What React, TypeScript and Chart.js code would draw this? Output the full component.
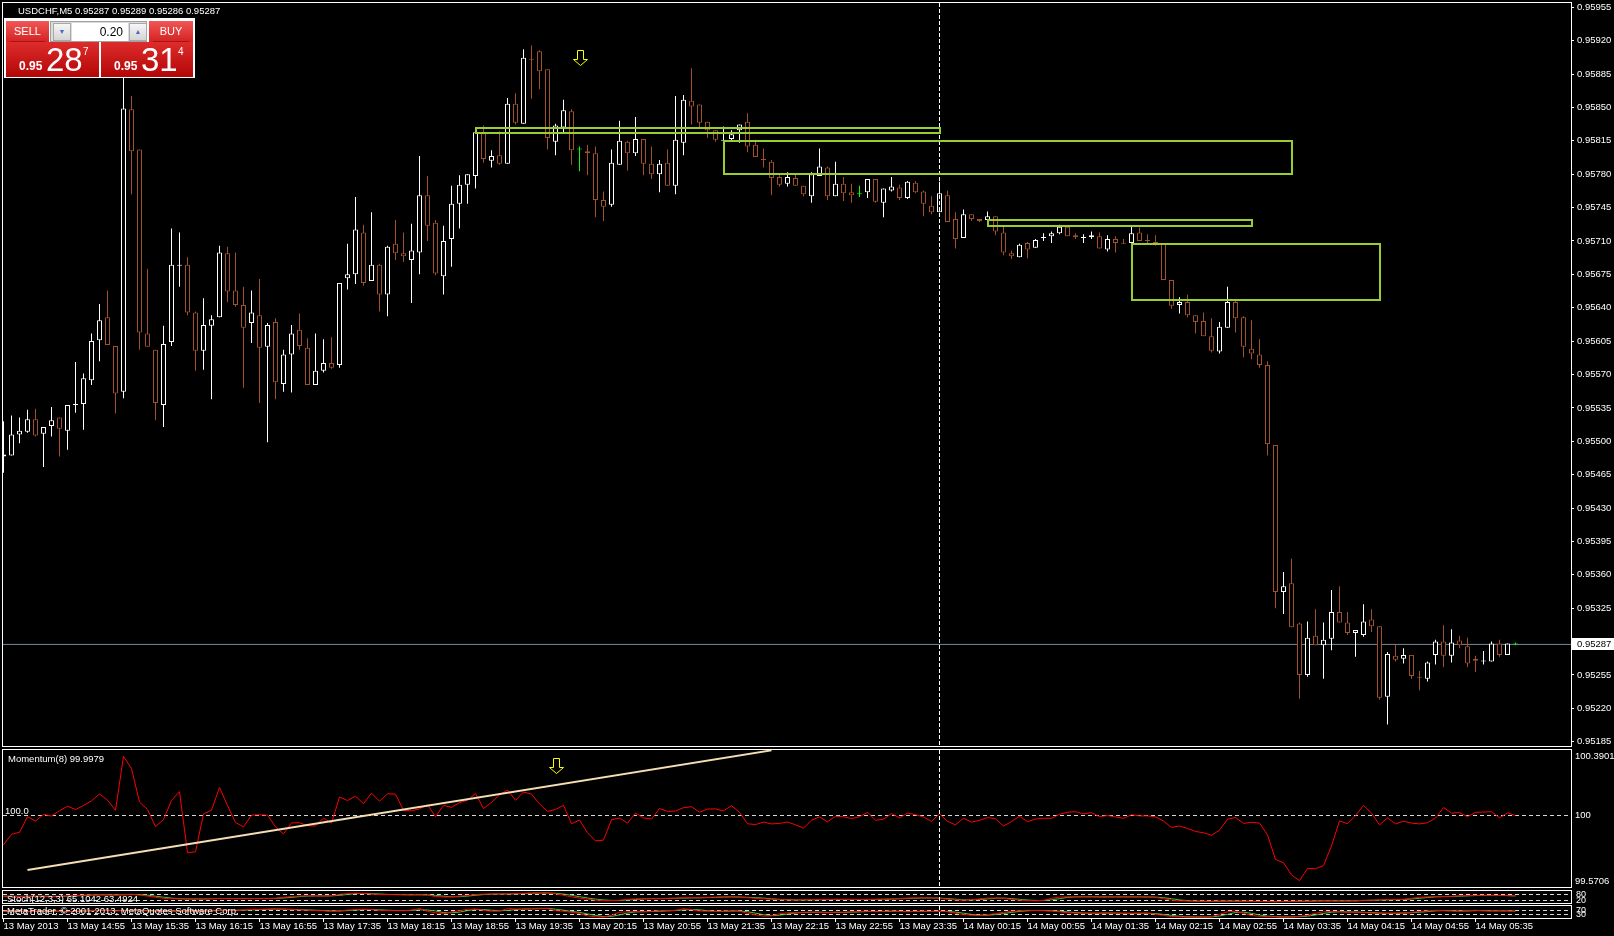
import React, { useEffect, useRef } from "react";
import { Chart, registerables } from "chart.js";
Chart.register(...registerables);

// ================= DATA =================
const SYMBOL_TITLE = "USDCHF,M5  0.95287 0.95289 0.95286 0.95287";
const MOMENTUM_TITLE = "Momentum(8) 99.9979";
const STOCH_TITLE = "Stoch(12,3,3) 65.1042 63.4924";
const COPYRIGHT = "MetaTrader, \u00a9 2001-2013, MetaQuotes Software Corp.";

const TIME_LABELS = [
  "13 May 2013", "13 May 14:55", "13 May 15:35", "13 May 16:15", "13 May 16:55", "13 May 17:35",
  "13 May 18:15", "13 May 18:55", "13 May 19:35", "13 May 20:15", "13 May 20:55", "13 May 21:35",
  "13 May 22:15", "13 May 22:55", "13 May 23:35", "14 May 00:15", "14 May 00:55", "14 May 01:35",
  "14 May 02:15", "14 May 02:55", "14 May 03:35", "14 May 04:15", "14 May 04:55", "14 May 05:35",
];
const BARS_PER_LABEL = 8;

const OPEN = [
  0.95484,0.95485,0.95507,0.95510,0.95523,0.95508,0.95516,0.95525,0.95511,0.95538,
  0.95539,0.95564,0.95606,0.95630,0.95600,0.95552,0.95848,0.95806,0.95613,0.95596,
  0.95538,0.95604,0.95684,0.95685,0.95635,0.95595,0.95621,0.95630,0.95697,0.95658,
  0.95643,0.95624,0.95632,0.95599,0.95625,0.95560,0.95591,0.95617,0.95598,0.95559,
  0.95574,0.95582,0.95580,0.95671,0.95675,0.95719,0.95668,0.95685,0.95654,0.95707,
  0.95697,0.95690,0.95698,0.95758,0.95729,0.95673,0.95712,0.95749,0.95769,0.95778,
  0.95823,0.95794,0.95800,0.95791,0.95854,0.95833,0.95901,0.95909,0.95890,0.95814,
  0.95829,0.95846,0.95806,0.95804,0.95802,0.95753,0.95748,0.95790,0.95814,0.95802,
  0.95817,0.95791,0.95780,0.95792,0.95768,0.95813,0.95857,0.95853,0.95835,0.95826,
  0.95815,0.95817,0.95826,0.95835,0.95811,0.95796,0.95793,0.95777,0.95770,0.95776,
  0.95768,0.95757,0.95778,0.95787,0.95757,0.95770,0.95761,0.95759,0.95761,0.95775,
  0.95750,0.95763,0.95766,0.95755,0.95771,0.95762,0.95747,0.95740,0.95758,0.95733,
  0.95713,0.95738,0.95733,0.95732,0.95736,0.95719,0.95697,0.95693,0.95708,0.95703,
  0.95713,0.95715,0.95718,0.95725,0.95716,0.95713,0.95714,0.95715,0.95701,0.95712,
  0.95708,0.95708,0.95719,0.95711,0.95709,0.95707,0.95669,0.95643,0.95646,0.95632,
  0.95626,0.95610,0.95594,0.95619,0.95646,0.95630,0.95597,0.95591,0.95580,0.95496,
  0.95342,0.95351,0.95309,0.95255,0.95296,0.95286,0.95293,0.95321,0.95310,0.95299,
  0.95297,0.95313,0.95306,0.95232,0.95275,0.95272,0.95276,0.95253,0.95251,0.95276,
  0.95290,0.95275,0.95291,0.95285,0.95272,0.95269,0.95269,0.95288,0.95276,0.95287,
];
const HIGH = [
  0.95521,0.95527,0.95525,0.95533,0.95534,0.95515,0.95536,0.95525,0.95538,0.95583,
  0.95571,0.95613,0.95644,0.95658,0.95600,0.95884,0.95862,0.95806,0.95681,0.95596,
  0.95621,0.95723,0.95719,0.95693,0.95636,0.95650,0.95632,0.95705,0.95704,0.95698,
  0.95662,0.95658,0.95670,0.95624,0.95629,0.95596,0.95622,0.95634,0.95608,0.95613,
  0.95607,0.95609,0.95666,0.95707,0.95756,0.95727,0.95740,0.95686,0.95705,0.95732,
  0.95719,0.95728,0.95799,0.95778,0.95732,0.95726,0.95768,0.95779,0.95780,0.95827,
  0.95831,0.95805,0.95825,0.95860,0.95865,0.95911,0.95915,0.95910,0.95890,0.95833,
  0.95858,0.95848,0.95809,0.95811,0.95809,0.95762,0.95806,0.95836,0.95815,0.95840,
  0.95817,0.95809,0.95795,0.95806,0.95862,0.95863,0.95891,0.95853,0.95835,0.95826,
  0.95830,0.95826,0.95832,0.95844,0.95816,0.95807,0.95795,0.95779,0.95782,0.95781,
  0.95768,0.95782,0.95807,0.95788,0.95793,0.95777,0.95770,0.95768,0.95775,0.95775,
  0.95765,0.95777,0.95769,0.95773,0.95773,0.95763,0.95757,0.95772,0.95763,0.95740,
  0.95743,0.95738,0.95733,0.95741,0.95736,0.95726,0.95700,0.95707,0.95709,0.95712,
  0.95718,0.95720,0.95727,0.95726,0.95718,0.95717,0.95720,0.95719,0.95716,0.95715,
  0.95712,0.95725,0.95724,0.95717,0.95716,0.95708,0.95669,0.95651,0.95654,0.95632,
  0.95635,0.95629,0.95625,0.95662,0.95649,0.95631,0.95627,0.95607,0.95584,0.95496,
  0.95363,0.95377,0.95310,0.95311,0.95324,0.95310,0.95344,0.95348,0.95321,0.95302,
  0.95329,0.95324,0.95306,0.95279,0.95287,0.95283,0.95276,0.95259,0.95269,0.95292,
  0.95307,0.95303,0.95296,0.95294,0.95275,0.95280,0.95290,0.95292,0.95288,0.95289,
];
const LOW = [
  0.95467,0.95485,0.95498,0.95509,0.95505,0.95473,0.95505,0.95484,0.95491,0.95530,
  0.95512,0.95559,0.95584,0.95601,0.95529,0.95545,0.95759,0.95596,0.95599,0.95522,
  0.95515,0.95600,0.95662,0.95632,0.95574,0.95575,0.95544,0.95630,0.95646,0.95641,
  0.95556,0.95603,0.95540,0.95499,0.95544,0.95552,0.95551,0.95596,0.95559,0.95559,
  0.95572,0.95576,0.95577,0.95659,0.95665,0.95663,0.95668,0.95636,0.95631,0.95690,
  0.95688,0.95645,0.95675,0.95710,0.95674,0.95654,0.95683,0.95723,0.95749,0.95765,
  0.95792,0.95787,0.95790,0.95791,0.95832,0.95833,0.95859,0.95869,0.95806,0.95800,
  0.95823,0.95790,0.95783,0.95779,0.95735,0.95731,0.95746,0.95790,0.95784,0.95799,
  0.95779,0.95775,0.95761,0.95768,0.95759,0.95800,0.95832,0.95828,0.95818,0.95814,
  0.95813,0.95814,0.95813,0.95803,0.95798,0.95787,0.95758,0.95767,0.95767,0.95768,
  0.95757,0.95750,0.95778,0.95753,0.95757,0.95752,0.95750,0.95756,0.95755,0.95750,
  0.95735,0.95762,0.95753,0.95754,0.95760,0.95736,0.95738,0.95740,0.95730,0.95702,
  0.95713,0.95731,0.95730,0.95732,0.95716,0.95695,0.95691,0.95693,0.95692,0.95703,
  0.95710,0.95708,0.95717,0.95715,0.95712,0.95708,0.95712,0.95702,0.95699,0.95698,
  0.95707,0.95708,0.95710,0.95707,0.95705,0.95669,0.95639,0.95634,0.95630,0.95613,
  0.95610,0.95593,0.95592,0.95619,0.95614,0.95588,0.95586,0.95577,0.95485,0.95325,
  0.95319,0.95305,0.95230,0.95253,0.95286,0.95251,0.95281,0.95310,0.95297,0.95274,
  0.95295,0.95300,0.95229,0.95203,0.95269,0.95267,0.95251,0.95239,0.95248,0.95266,
  0.95263,0.95268,0.95283,0.95263,0.95258,0.95266,0.95269,0.95274,0.95276,0.95286,
];
const CLOSE = [
  0.95486,0.95507,0.95511,0.95523,0.95506,0.95515,0.95522,0.95513,0.95538,0.95539,
  0.95566,0.95605,0.95627,0.95601,0.95550,0.95849,0.95804,0.95614,0.95599,0.95540,
  0.95602,0.95685,0.95685,0.95635,0.95595,0.95622,0.95628,0.95698,0.95657,0.95643,
  0.95619,0.95635,0.95598,0.95622,0.95562,0.95591,0.95613,0.95600,0.95559,0.95574,
  0.95582,0.95577,0.95666,0.95675,0.95722,0.95666,0.95685,0.95654,0.95704,0.95697,
  0.95694,0.95700,0.95758,0.95726,0.95676,0.95710,0.95749,0.95769,0.95780,0.95824,
  0.95796,0.95799,0.95791,0.95854,0.95834,0.95902,0.95900,0.95888,0.95818,0.95831,
  0.95847,0.95805,0.95806,0.95802,0.95753,0.95746,0.95792,0.95815,0.95802,0.95817,
  0.95791,0.95780,0.95791,0.95768,0.95816,0.95858,0.95851,0.95834,0.95826,0.95816,
  0.95816,0.95822,0.95832,0.95809,0.95798,0.95795,0.95776,0.95769,0.95777,0.95768,
  0.95759,0.95780,0.95788,0.95757,0.95770,0.95760,0.95758,0.95759,0.95775,0.95751,
  0.95765,0.95767,0.95755,0.95772,0.95761,0.95749,0.95740,0.95760,0.95730,0.95712,
  0.95738,0.95733,0.95731,0.95736,0.95720,0.95698,0.95694,0.95706,0.95701,0.95711,
  0.95714,0.95718,0.95725,0.95715,0.95714,0.95714,0.95716,0.95702,0.95712,0.95708,
  0.95707,0.95718,0.95710,0.95710,0.95706,0.95669,0.95642,0.95646,0.95632,0.95625,
  0.95610,0.95595,0.95620,0.95646,0.95629,0.95599,0.95592,0.95580,0.95497,0.95342,
  0.95348,0.95305,0.95255,0.95294,0.95286,0.95292,0.95321,0.95310,0.95299,0.95302,
  0.95311,0.95306,0.95231,0.95277,0.95271,0.95276,0.95254,0.95252,0.95268,0.95290,
  0.95275,0.95289,0.95286,0.95267,0.95270,0.95270,0.95288,0.95276,0.95288,0.95287,
];

const MOMENTUM = [
  99.822,99.886,99.898,99.991,99.965,100.005,99.995,100.027,
  100.054,100.034,100.058,100.086,100.127,100.090,100.029,100.352,
  100.279,100.079,100.035,99.932,99.974,100.088,100.141,99.776,
  99.781,100.008,100.030,100.166,100.058,99.956,99.931,100.000,
  100.003,100.000,99.931,99.888,99.954,99.955,99.937,99.936,
  99.983,99.953,100.109,100.088,100.114,100.069,100.132,100.084,
  100.128,100.126,100.029,100.026,100.038,100.063,99.991,100.059,
  100.047,100.075,100.090,100.130,100.040,100.077,100.121,100.151,
  100.089,100.139,100.126,100.067,100.023,100.034,100.059,99.949,
  99.971,99.895,99.846,99.851,99.973,99.983,99.953,100.013,
  99.984,99.977,100.040,100.023,100.025,100.045,100.051,100.018,
  100.037,100.038,100.026,100.057,100.017,99.949,99.944,99.959,
  99.948,99.951,99.959,99.943,99.923,99.970,99.990,99.960,
  99.994,99.991,99.980,99.991,100.017,99.970,99.976,100.010,
  99.984,100.013,100.003,99.990,99.963,100.009,99.963,99.942,
  99.982,99.959,99.969,99.986,99.979,99.935,99.962,99.994,
  99.961,99.977,99.982,99.981,100.005,100.018,100.021,100.008,
  100.016,99.991,99.998,99.990,99.981,100.003,99.996,99.996,
  99.990,99.965,99.927,99.935,99.921,99.903,99.895,99.880,
  99.910,99.976,99.986,99.951,99.958,99.953,99.882,99.735,
  99.716,99.643,99.609,99.681,99.680,99.699,99.816,99.966,
  99.949,99.997,100.059,100.013,99.942,99.984,99.948,99.964,
  99.953,99.948,99.955,99.983,100.046,100.013,100.016,99.991,
  100.017,100.019,100.021,99.985,100.014,99.998,
];

const STOCH_MAIN = [
  62,60,58,60,62,60,58, 60,64,68,72,75,76, 74,72,78,80, 72,62,50,40, 35,34,32,33,35,
  38,38,37,37,36,37,38,38,40, 50,58,63,65,64,63,65, 80,88,92,88, 82,78,76,76,75,74,76,
  72,58,52,55,62,70, 78,82,84,82,84,86,90, 93,94,92,85, 70,55,42,32, 22,17,18,20,
  30,35,36,36,37, 40,42,45,46,45, 50,52,55,54,50,46, 40,35,30,26,24,22,
  24,26,28,28,30,29,28,28,29,30,32,35, 38,42,44,44,42,40, 30,24,22,25, 35,42,43,40,
  28,22,18,16,20, 40,52, 56,55,55,54,53,54,55,54,53,54,53,50, 35,22,14,
  12,11,10,10,12,14,12,10,9,8,7,6,8,10,12,12,14,15,14,13,14,16,
  20,22,24,26,28,30, 40,50,55,57,58,60, 65,68,70,70,69,68,66,65.1,
];
const STOCH_SIGNAL = [
  60,61,60,59,60,61,60, 59,61,64,68,72,74, 75,74,75,77, 77,71,61,51, 42,36,34,33,33,
  35,37,38,37,37,37,37,38,39, 43,49,57,62,64,64,64, 69,78,87,89, 86,83,79,77,76,75,75,
  74,69,61,55,56,62, 70,77,81,83,83,84,87, 90,92,93,90, 82,70,56,43, 32,24,19,18,
  23,28,34,36,36, 38,40,42,44,45, 47,49,52,54,53,50, 47,42,35,30,27,24,
  23,24,26,27,29,29,29,28,28,29,30,32, 35,38,41,43,43,42, 37,31,25,24, 27,34,40,42,
  37,30,23,19,18, 25,36, 49,54,55,55,54,54,54,54,54,54,53,52, 46,36,24,
  16,12,11,10,11,12,12,12,10,9,8,7,7,8,10,11,13,14,14,14,14,14,
  17,20,22,24,26,28, 33,40,48,54,57,58, 61,64,68,69,70,69,68,63.49,
];
const STOCH2_MAIN = [
  60,62,58,55,60,64,62,58,55, 60,66,70,72,68,62,70,74, 70,62,58,60,64,66,62,60,
  64,70,72,68,70,74,78,80,82, 84,80,76,74,72,68,64,60, 66,72,78,80,76,70,68,66,
  66,72,88, 60,45,35, 55,66,80,84,70, 60,62,86,84,80, 88,90,88, 66,60,50,38,
  15,5,2,20, 50,55,58,55,60,66, 66,70,86,76, 62,60,58,62,66, 62,40,25,12,15,
  35,45,48,50, 52,50,45,52,50,55, 58,62,55,60,64,58,55,60,62,58,60,56,
  40,28,20,18,25,38, 50,60,66,70,68,65,62,55, 45,42,40,40,42,44,40,38,40,42,40,30,
  18,8,4,2,2,4,6, 30,55,60, 40,18,10,6,4,2,5,10,20,40, 55,58,55,50,52,48,
  42,38,40,42,45,50, 58,64,70,66,62,60,68,70,64,62,66,64,60,
];
const STOCH2_SIGNAL = [
  58,60,60,58,58,60,62,61,58, 58,61,65,69,70,67,67,69, 71,68,63,60,61,63,64,62,
  62,65,68,70,70,71,74,77,80, 82,82,80,77,74,71,68,64, 63,67,72,77,78,75,71,68,
  67,68,75, 73,64,47, 45,52,67,77,78, 71,65,69,77,83, 84,86,89, 81,71,59,49,
  34,19,7,9, 24,42,54,56,58,60, 64,67,74,77, 75,66,60,60,62, 63,56,42,26,17,
  21,32,43,48, 50,51,49,49,49,52, 54,58,58,59,60,61,59,58,59,60,60,59,
  52,41,29,22,21,27, 38,49,59,65,68,68,65,61, 54,47,42,41,41,42,42,41,39,40,41,37,
  29,19,10,5,3,3,4, 13,30,48, 52,39,23,11,7,4,4,6,12,23, 38,51,56,54,52,50,
  47,43,40,40,42,46, 51,57,64,67,66,63,63,66,67,65,64,64,63,
];

const PRICE_TICKS = [
  0.95185, 0.95220, 0.95255, 0.95290, 0.95325, 0.95360, 0.95395, 0.95430, 0.95465, 0.95500,
  0.95535, 0.95570, 0.95605, 0.95640, 0.95675, 0.95710, 0.95745, 0.95780, 0.95815, 0.95850,
  0.95885, 0.95920, 0.95955,
];
const PRICE_MIN = 0.9518049;
const PRICE_MAX = 0.9595951;
const BID = 0.95287;

const MOMENTUM_AXIS_LABELS = ["100.3901", "100", "99.5706"];
const MOMENTUM_MIN = 99.5706;
const MOMENTUM_MAX = 100.3901;
const MOMENTUM_LEVEL = 100;
const STOCH_LEVELS = [80, 20];
const STOCH2_LEVELS = [70, 30];
const STOCH_MIN = -7;
const STOCH_MAX = 113;

// rectangles (bar index range, price range)
const RECT_START = [59, 90, 123, 141];
const RECT_END = [117, 161, 156, 172];
const RECT_HIGH = [0.95828, 0.95815, 0.95732, 0.95707];
const RECT_LOW = [0.95823, 0.95780, 0.95726, 0.95648];

// arrows: [bar index, value at arrow top]
const PRICE_ARROW = [72, 0.9591];
const MOMENTUM_ARROW = [69, 100.344];

// momentum trend line
const TREND_INDEX = [3, 96];
const TREND_VALUE = [99.672, 100.388];

const SEPARATOR_INDEX = 117;

// ================= STYLE =================
const FONT = "'Liberation Sans', Arial, sans-serif";
const W = 1614;
const AXIS_W = 43;
const X_MIN = -0.0625;
const X_MAX = X_MIN + 196;
const BULL = "#ffffff";
const BEAR = "#a0522d";
const DOJI = "#00ff00";

const candleColor = (i: number) =>
  CLOSE[i] > OPEN[i] ? BULL : CLOSE[i] < OPEN[i] ? BEAR : DOJI;

const hiddenX = () => ({
  type: "linear",
  min: X_MIN,
  max: X_MAX,
  offset: false,
  display: false,
});

function rightAxis(
  min: number,
  max: number,
  tickValues: (s: any) => number[],
  label: (v: number, i: number) => string,
  drawTicks: boolean,
  pad: number,
  size = 9.5
) {
  return {
    type: "linear",
    position: "right",
    min,
    max,
    afterBuildTicks: (s: any) => {
      s.ticks = tickValues(s).map((v) => ({ value: v }));
    },
    afterFit: (s: any) => {
      s.width = AXIS_W;
      s.paddingTop = 0;
      s.paddingBottom = 0;
      s.paddingLeft = 0;
      s.paddingRight = 0;
    },
    ticks: {
      autoSkip: false,
      color: "#ffffff",
      padding: pad,
      font: { family: FONT, size },
      callback: (v: any, i: number) => label(Number(v), i),
    },
    grid: { drawOnChartArea: false, drawTicks, tickLength: 3, color: "#ffffff" },
    border: { display: false },
  };
}

const framePlugin = {
  id: "frame",
  afterDraw(chart: any) {
    const { ctx, chartArea: a } = chart;
    ctx.save();
    ctx.strokeStyle = "#ffffff";
    ctx.lineWidth = 1;
    ctx.strokeRect(a.left - 0.5, a.top - 0.5, a.right - a.left + 1, a.bottom - a.top + 1);
    ctx.restore();
  },
};

const separatorPlugin = {
  id: "separator",
  afterDatasetsDraw(chart: any) {
    const { ctx, chartArea: a } = chart;
    const x = chart.scales.x.getPixelForValue(SEPARATOR_INDEX);
    ctx.save();
    ctx.strokeStyle = "#ffffff";
    ctx.lineWidth = 1;
    ctx.setLineDash([4, 2]);
    ctx.beginPath();
    ctx.moveTo(x, a.top);
    ctx.lineTo(x, a.bottom);
    ctx.stroke();
    ctx.restore();
  },
};

const levelsPlugin = (levels: number[]) => ({
  id: "levels",
  beforeDatasetsDraw(chart: any) {
    const { ctx, chartArea: a } = chart;
    const ys = chart.scales.y;
    ctx.save();
    ctx.strokeStyle = "#d8d8d8";
    ctx.lineWidth = 1;
    ctx.setLineDash([4, 3]);
    levels.forEach((lv) => {
      const y = Math.round(ys.getPixelForValue(lv)) + 0.5;
      ctx.beginPath();
      ctx.moveTo(a.left, y);
      ctx.lineTo(a.right, y);
      ctx.stroke();
    });
    ctx.restore();
  },
});

const rectPlugin = {
  id: "rects",
  afterDatasetsDraw(chart: any) {
    const { ctx, chartArea: a } = chart;
    const xs = chart.scales.x;
    const ys = chart.scales.y;
    ctx.save();
    ctx.beginPath();
    ctx.rect(a.left, a.top, a.right - a.left, a.bottom - a.top);
    ctx.clip();
    ctx.strokeStyle = "#9acd32";
    ctx.lineWidth = 2;
    RECT_START.forEach((s, k) => {
      const x1 = Math.round(xs.getPixelForValue(s));
      const x2 = Math.round(xs.getPixelForValue(RECT_END[k]));
      const y1 = Math.round(ys.getPixelForValue(RECT_HIGH[k]));
      const y2 = Math.round(ys.getPixelForValue(RECT_LOW[k]));
      ctx.strokeRect(x1, y1, x2 - x1, y2 - y1);
    });
    ctx.restore();
  },
};

const arrowPlugin = (spec: number[]) => ({
  id: "arrow",
  afterDatasetsDraw(chart: any) {
    const { ctx } = chart;
    const cx = Math.round(chart.scales.x.getPixelForValue(spec[0])) + 0.5;
    const ty = Math.round(chart.scales.y.getPixelForValue(spec[1])) + 0.5;
    ctx.save();
    ctx.strokeStyle = "#ffff00";
    ctx.lineWidth = 1;
    ctx.beginPath();
    ctx.moveTo(cx - 3, ty);
    ctx.lineTo(cx + 3, ty);
    ctx.lineTo(cx + 3, ty + 9);
    ctx.lineTo(cx + 7, ty + 9);
    ctx.lineTo(cx, ty + 15);
    ctx.lineTo(cx - 7, ty + 9);
    ctx.lineTo(cx - 3, ty + 9);
    ctx.closePath();
    ctx.stroke();
    ctx.restore();
  },
});

const bidLabelPlugin = {
  id: "bidLabel",
  afterDraw(chart: any) {
    const { ctx, chartArea: a } = chart;
    const y = chart.scales.y.getPixelForValue(BID);
    ctx.save();
    ctx.fillStyle = "#ffffff";
    ctx.fillRect(a.right + 1, Math.round(y) - 6, W - a.right, 12);
    ctx.fillStyle = "#000000";
    ctx.font = `9.5px ${FONT}`;
    ctx.textBaseline = "middle";
    ctx.textAlign = "left";
    ctx.fillText(BID.toFixed(5), a.right + 6, Math.round(y) + 0.5);
    ctx.restore();
  },
};

const baseOptions = (padding: any) => ({
  responsive: false,
  animation: false,
  devicePixelRatio: 1,
  events: [],
  layout: { padding },
  plugins: { legend: { display: false }, tooltip: { enabled: false } },
});

function mainConfig(): any {
  const colors = CLOSE.map((_, i) => candleColor(i));
  return {
    type: "bar",
    data: {
      datasets: [
        {
          type: "line",
          data: [
            { x: X_MIN, y: BID },
            { x: X_MAX, y: BID },
          ],
          borderColor: "#778899",
          borderWidth: 1,
          pointRadius: 0,
          order: 3,
          clip: 0,
        },
        {
          type: "bar",
          data: CLOSE.map((_, i) => ({ x: i, y: [LOW[i], HIGH[i]] })),
          backgroundColor: colors,
          borderWidth: 0,
          grouped: false,
          barThickness: 1,
          maxBarThickness: 1,
          inflateAmount: 0,
          order: 2,
          clip: 0,
        },
        {
          type: "bar",
          data: CLOSE.map((c, i) => ({ x: i, y: [OPEN[i], c] })),
          backgroundColor: "#000000",
          borderColor: colors,
          borderWidth: 1,
          borderSkipped: false,
          grouped: false,
          barThickness: 5,
          maxBarThickness: 5,
          minBarLength: 1,
          inflateAmount: 0,
          order: 1,
          clip: 0,
        },
      ],
    },
    options: {
      ...baseOptions({ left: 3, top: 3, right: 0, bottom: 4 }),
      scales: {
        x: hiddenX(),
        y: rightAxis(PRICE_MIN, PRICE_MAX, () => PRICE_TICKS, (v) => v.toFixed(5), true, 3),
      },
    },
    plugins: [framePlugin, separatorPlugin, rectPlugin, arrowPlugin(PRICE_ARROW), bidLabelPlugin],
  };
}

function momentumConfig(): any {
  return {
    type: "line",
    data: {
      datasets: [
        {
          data: TREND_INDEX.map((x, k) => ({ x, y: TREND_VALUE[k] })),
          borderColor: "#f5deb3",
          borderWidth: 2,
          pointRadius: 0,
          clip: 0,
        },
        {
          data: MOMENTUM.map((y, i) => ({ x: i, y })),
          borderColor: "#ff0000",
          borderWidth: 1,
          pointRadius: 0,
          tension: 0,
          clip: 0,
        },
      ],
    },
    options: {
      ...baseOptions({ left: 3, top: 10, right: 0, bottom: 8 }),
      scales: {
        x: hiddenX(),
        y: rightAxis(
          MOMENTUM_MIN,
          MOMENTUM_MAX,
          (s) => {
            const r = ((s.max - s.min) * 6) / 137;
            return [s.max - r, MOMENTUM_LEVEL, s.min + r];
          },
          (_v, i) => MOMENTUM_AXIS_LABELS[i],
          false,
          4
        ),
      },
    },
    plugins: [levelsPlugin([MOMENTUM_LEVEL]), framePlugin, separatorPlugin, arrowPlugin(MOMENTUM_ARROW)],
  };
}

function stochConfig(main: number[], signal: number[], levels: number[], withTime: boolean): any {
  const xAxis: any = withTime
    ? {
        type: "linear",
        min: X_MIN,
        max: X_MAX,
        offset: false,
        position: "bottom",
        afterBuildTicks: (s: any) => {
          s.ticks = TIME_LABELS.map((_, k) => ({ value: k * BARS_PER_LABEL }));
        },
        afterFit: (s: any) => {
          s.height = 18;
          s.paddingLeft = 0;
          s.paddingRight = 0;
        },
        ticks: {
          autoSkip: false,
          maxRotation: 0,
          minRotation: 0,
          align: "start",
          color: "#ffffff",
          padding: -1,
          font: { family: FONT, size: 9.5 },
          callback: (_v: any, i: number) => TIME_LABELS[i],
        },
        grid: { drawOnChartArea: false, drawTicks: true, tickLength: 4, color: "#ffffff" },
        border: { display: false },
      }
    : hiddenX();
  return {
    type: "line",
    data: {
      datasets: [
        {
          data: main.map((y, i) => ({ x: i, y })),
          borderColor: "#ff0000",
          borderWidth: 1,
          pointRadius: 0,
          clip: 0,
        },
        {
          data: signal.map((y, i) => ({ x: i, y })),
          borderColor: "#3cc03c",
          borderWidth: 1,
          pointRadius: 0,
          clip: 0,
        },
      ],
    },
    options: {
      ...baseOptions(withTime ? { left: 3, top: 10, right: 0, bottom: 0 } : { left: 3, top: 11, right: 0, bottom: 7 }),
      scales: {
        x: xAxis,
        y: rightAxis(STOCH_MIN, STOCH_MAX, () => levels, (v) => String(v), false, 5, 9),
      },
    },
    plugins: [levelsPlugin(levels), framePlugin, separatorPlugin],
  };
}

// ================= UI =================
const txt = (left: number, top: number, extra: any = {}): React.CSSProperties => ({
  position: "absolute",
  left,
  top,
  color: "#ffffff",
  fontFamily: FONT,
  fontSize: 9.5,
  lineHeight: "11px",
  whiteSpace: "nowrap",
  ...extra,
});

const redBtn: React.CSSProperties = {
  position: "absolute",
  background: "linear-gradient(#f25656, #d42222)",
  color: "#ffffff",
  fontFamily: FONT,
  fontSize: 11,
  display: "flex",
  alignItems: "center",
  justifyContent: "center",
};
const btnLine: React.CSSProperties = {
  position: "absolute",
  left: 4,
  right: 4,
  bottom: 0,
  height: 1,
  background: "#a81212",
};
const priceBox: React.CSSProperties = {
  position: "absolute",
  background: "linear-gradient(#de2c2c, #b20606)",
  color: "#ffffff",
  fontFamily: FONT,
  overflow: "hidden",
};
const spinBtn: React.CSSProperties = {
  position: "absolute",
  top: 1,
  width: 18,
  height: 18,
  background: "linear-gradient(#f6f6f6, #d4d4d4)",
  border: "1px solid #a8a8a8",
  boxSizing: "border-box",
  color: "#4a6cc8",
  fontSize: 7,
  display: "flex",
  alignItems: "center",
  justifyContent: "center",
};

function PriceDigits({ big, small }: { big: string; small: string }) {
  return (
    <>
      <span style={{ position: "absolute", left: 13, top: 18, fontSize: 12, fontWeight: "bold", lineHeight: "12px" }}>0.95</span>
      <span style={{ position: "absolute", left: 40, top: 1, fontSize: 33, lineHeight: "33px" }}>{big}</span>
      <span style={{ position: "absolute", left: 77, top: 5, fontSize: 10, lineHeight: "10px" }}>{small}</span>
    </>
  );
}

function TradePanel() {
  return (
    <div style={{ position: "absolute", left: 4, top: 18, width: 191, height: 60, background: "#ffffff" }}>
      <div style={{ ...redBtn, left: 2, top: 2.5, width: 43, height: 21 }}>
        SELL
        <div style={btnLine} />
      </div>
      <div style={{ position: "absolute", left: 46, top: 2.5, width: 97, height: 21, background: "#dcdcdc", border: "1px solid #a0a0a0", boxSizing: "border-box" }}>
        <div style={{ ...spinBtn, left: 2 }}>▼</div>
        <div style={{ position: "absolute", left: 21, top: 1, width: 56, height: 18, background: "#ffffff", fontFamily: FONT, fontSize: 12, lineHeight: "18px", textAlign: "right", paddingRight: 5, boxSizing: "border-box", color: "#000" }}>0.20</div>
        <div style={{ ...spinBtn, left: 78 }}>▲</div>
      </div>
      <div style={{ ...redBtn, left: 145, top: 2.5, width: 44, height: 21 }}>
        BUY
        <div style={btnLine} />
      </div>
      <div style={{ ...priceBox, left: 2, top: 23.5, width: 93, height: 35 }}>
        <PriceDigits big="28" small="7" />
      </div>
      <div style={{ ...priceBox, left: 97, top: 23.5, width: 92, height: 35 }}>
        <PriceDigits big="31" small="4" />
      </div>
    </div>
  );
}

export default function App() {
  const mainRef = useRef<HTMLCanvasElement>(null);
  const momRef = useRef<HTMLCanvasElement>(null);
  const stRef = useRef<HTMLCanvasElement>(null);
  const st2Ref = useRef<HTMLCanvasElement>(null);

  useEffect(() => {
    Chart.defaults.font.family = FONT;
    const charts = [
      new Chart(mainRef.current as HTMLCanvasElement, mainConfig()),
      new Chart(momRef.current as HTMLCanvasElement, momentumConfig()),
      new Chart(stRef.current as HTMLCanvasElement, stochConfig(STOCH_MAIN, STOCH_SIGNAL, STOCH_LEVELS, false)),
      new Chart(st2Ref.current as HTMLCanvasElement, stochConfig(STOCH2_MAIN, STOCH2_SIGNAL, STOCH2_LEVELS, true)),
    ];
    return () => charts.forEach((c) => c.destroy());
  }, []);

  const cv = (top: number, h: number): React.CSSProperties => ({
    position: "absolute",
    left: 0,
    top,
    width: W,
    height: h,
  });

  return (
    <div style={{ position: "fixed", left: 0, top: 0, width: W, height: 936, background: "#000", overflow: "hidden" }}>
      <canvas ref={mainRef} width={W} height={750} style={cv(0, 750)} />
      <canvas ref={momRef} width={W} height={155} style={cv(740, 155)} />
      <canvas ref={stRef} width={W} height={30} style={cv(880, 30)} />
      <canvas ref={st2Ref} width={W} height={40} style={cv(896, 40)} />
      <div style={txt(18, 5)}>{SYMBOL_TITLE}</div>
      <TradePanel />
      <div style={txt(8, 753)}>{MOMENTUM_TITLE}</div>
      <div style={txt(5, 805)}>100.0</div>
      <div style={txt(7, 892.5)}>{STOCH_TITLE}</div>
      <div style={txt(7, 905)}>{COPYRIGHT}</div>
    </div>
  );
}
